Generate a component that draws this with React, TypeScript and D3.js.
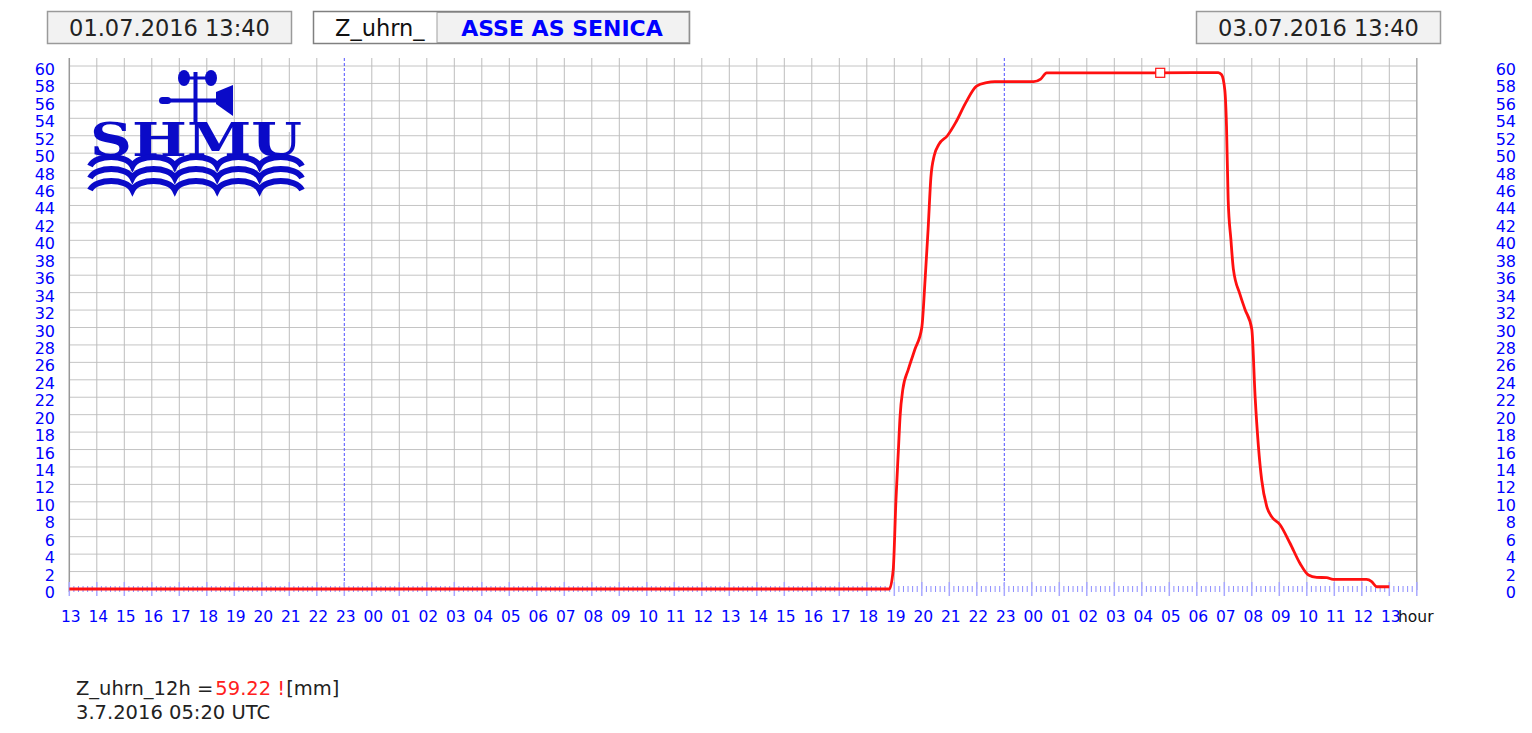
import React from 'react';
import * as d3 from 'd3';

const startLabel = '01.07.2016 13:40';
const endLabel = '03.07.2016 13:40';
const paramName = 'Z_uhrn_';
const stationName = 'ASSE AS SENICA';
const hourLabels = [
  '13','14','15','16','17','18','19','20','21','22','23',
  '00','01','02','03','04','05','06','07','08','09','10','11','12','13','14','15','16','17','18','19','20','21','22','23',
  '00','01','02','03','04','05','06','07','08','09','10','11','12','13',
];
const yTicks = [0,2,4,6,8,10,12,14,16,18,20,22,24,26,28,30,32,34,36,38,40,42,44,46,48,50,52,54,56,58,60];
const dashedHours = [10, 34];
// hours since 01.07.2016 13:40
const hours = [
  0, 29.82, 29.96, 30.06, 30.15, 30.21, 30.31, 30.51, 30.75, 31.0, 31.12, 31.23, 31.33, 31.45, 31.62, 31.93,
  32.23, 32.6, 32.99, 33.36, 33.66, 35.07, 35.32, 35.54, 39.18, 39.4, 41.78, 41.9, 42.02, 42.08, 42.14, 42.24,
  42.33, 42.57, 42.75, 43.0, 43.12, 43.24, 43.36, 43.54, 43.72, 44.02, 44.39, 44.75, 45.06, 45.36, 45.72, 45.96,
  47.17, 47.36, 47.54, 48.0,
];
const values = [
  0, 0, 2.2, 10.2, 16, 19.8, 22.9, 25.2, 27.5, 30, 35.5, 41.3, 47.2, 49.7, 51.0, 52.0,
  53.5, 55.8, 57.7, 58.1, 58.2, 58.2, 58.5, 59.2, 59.2, 59.22, 59.25, 59.0, 57.2, 53.1, 44.7, 40.1,
  36.7, 33.8, 32.1, 29.8, 22.1, 16.4, 12.5, 9.5, 8.3, 7.4, 5.25, 2.95, 1.6, 1.34, 1.3, 1.1,
  1.1, 0.85, 0.26, 0.26,
];
const markerHour = 39.67;
const markerValue = 59.22;
const readoutName = 'Z_uhrn_12h =';
const readoutValue = '59.22 !';
const readoutUnit = '[mm]';
const readoutTime = '3.7.2016 05:20 UTC';

const FONT = '"DejaVu Sans", Verdana, sans-serif';
const BLUE = '#0000ff';
const LOGO = '#0a0ac8';

function Logo() {
  const waveRows = [166, 178, 190];
  const wavePath = (yb: number) => {
    let p = `M90,${yb}`;
    const period = 42.4;
    for (let i = 0; i < 5; i++) {
      const x0 = 90 + i * period;
      p += ` C${x0 + 6},${yb - 12} ${x0 + period - 6},${yb - 12} ${x0 + period},${yb}`;
    }
    return p;
  };
  return (
    <g fill={LOGO}>
      {/* vane */}
      <rect x={193.5} y={72} width={4} height={50} />
      <rect x={184} y={76.5} width={27} height={3} />
      <ellipse cx={184} cy={78} rx={6} ry={8} />
      <ellipse cx={211} cy={78} rx={6} ry={8} />
      <rect x={163} y={98.5} width={56} height={4} />
      <rect x={159} y={97} width={12} height={7} rx={3.5} />
      <polygon points="216,92 233,85 233,116 216,104" />
      <text x={90} y={156} fontFamily='"DejaVu Serif", serif' fontWeight={900} fontSize={46}
        textLength={212} lengthAdjust="spacingAndGlyphs">SHMU</text>
      <rect x={287} y={125} width={4} height={7} fill="#fff" />
      {waveRows.map((yb) => (
        <path key={yb} d={wavePath(yb)} fill="none" stroke={LOGO} strokeWidth={6} />
      ))}
    </g>
  );
}

export default function App() {
  const W = 1532, H = 733;
  const x = d3.scaleLinear().domain([0, 49]).range([69.3, 1416.8]);
  const y = d3.scaleLinear().domain([0, 60]).range([589, 66]);
  const top = 58;
  const bottom = y(0);
  const gridHours = d3.range(1, 49);
  const minorTicks = d3.range(0, 49 * 6 + 1).filter((i) => i % 6 !== 0).map((i) => i / 6);
  const line = d3.line<number>().x((_, i) => x(hours[i])).y((v) => y(v)).curve(d3.curveMonotoneX);

  return (
    <svg width={W} height={H} style={{ position: 'absolute', left: 0, top: 0, background: '#fff' }}
      fontFamily={FONT}>
      {/* header boxes */}
      <rect x={47.5} y={11.5} width={244} height={32} fill="#f2f2f2" stroke="#9a9a9a" strokeWidth={1.5} />
      <text x={169.5} y={28} textAnchor="middle" dominantBaseline="central" fontSize={22.5} fill="#222">{startLabel}</text>
      <rect x={313.5} y={11.5} width={376} height={32} fill="#fff" stroke="#808080" strokeWidth={1.5} />
      <text x={335} y={28} dominantBaseline="central" fontSize={22.5} fill="#111">{paramName}</text>
      <rect x={437} y={12.5} width={252} height={30} fill="#f2f2f2" stroke="#a0a0a0" strokeWidth={1} />
      <text x={562} y={28} textAnchor="middle" dominantBaseline="central" fontSize={22} fontWeight="bold" fill={BLUE}>{stationName}</text>
      <rect x={1196.5} y={11.5} width={244} height={32} fill="#f2f2f2" stroke="#9a9a9a" strokeWidth={1.5} />
      <text x={1318.5} y={28} textAnchor="middle" dominantBaseline="central" fontSize={22.5} fill="#222">{endLabel}</text>

      {/* grid */}
      {yTicks.filter((v) => v > 0).map((v) => (
        <line key={'h' + v} x1={x(0)} x2={x(49)} y1={y(v)} y2={y(v)} stroke="#c4c4c4" strokeWidth={1} />
      ))}
      {gridHours.filter((h) => !dashedHours.includes(h)).map((h) => (
        <line key={'v' + h} x1={x(h)} x2={x(h)} y1={top} y2={bottom} stroke="#bdbdbd" strokeWidth={1} />
      ))}
      {dashedHours.map((h) => (
        <line key={'d' + h} x1={x(h)} x2={x(h)} y1={top} y2={bottom} stroke="#5050ff" strokeWidth={1} strokeDasharray="3,2" />
      ))}
      <line x1={x(0)} x2={x(0)} y1={top} y2={bottom + 3} stroke="#999" strokeWidth={1.5} />
      <line x1={x(49)} x2={x(49)} y1={top} y2={bottom + 1} stroke="#aaa" strokeWidth={1.5} />

      {/* ticks */}
      {minorTicks.map((h, i) => (
        <line key={'m' + i} x1={x(h)} x2={x(h)} y1={bottom - 3} y2={bottom + 3} stroke="#8c8cff" strokeWidth={1} />
      ))}
      {d3.range(0, 50).map((h) => (
        <line key={'M' + h} x1={x(h)} x2={x(h)} y1={bottom - 7} y2={bottom + 7} stroke="#a8a8ff" strokeWidth={1.5} />
      ))}

      <Logo />

      {/* data line */}
      <path d={line(values) || ''} fill="none" stroke="#ff1010" strokeWidth={2.8} strokeLinejoin="round" />
      <rect x={x(markerHour) - 4.5} y={y(markerValue) - 4.5} width={9} height={9} fill="#fff" stroke="#ff1010" strokeWidth={1.2} />

      {/* y labels */}
      {yTicks.map((v) => (
        <text key={'yl' + v} x={55} y={y(v) + 3.5} textAnchor="end" dominantBaseline="central" fontSize={16} fill={BLUE}>{v}</text>
      ))}
      {yTicks.map((v) => (
        <text key={'yr' + v} x={1516} y={y(v) + 3.5} textAnchor="end" dominantBaseline="central" fontSize={16} fill={BLUE}>{v}</text>
      ))}
      {/* x labels */}
      {hourLabels.map((l, i) => (
        <text key={'xl' + i} x={x(i) + 1.5} y={617} textAnchor="middle" dominantBaseline="central" fontSize={15.5} fill={BLUE}>{l}</text>
      ))}
      <text x={1398} y={617} dominantBaseline="central" fontSize={15.5} fill="#111">hour</text>

      {/* readout */}
      <text x={76} y={695} fontSize={19.5} fill="#222">
        <tspan>{readoutName}</tspan>
        <tspan fill="#ff2020" dx={2}>{readoutValue}</tspan>
        <tspan dx={1}>{readoutUnit}</tspan>
      </text>
      <text x={76} y={719} fontSize={19.5} fill="#222">{readoutTime}</text>
    </svg>
  );
}
